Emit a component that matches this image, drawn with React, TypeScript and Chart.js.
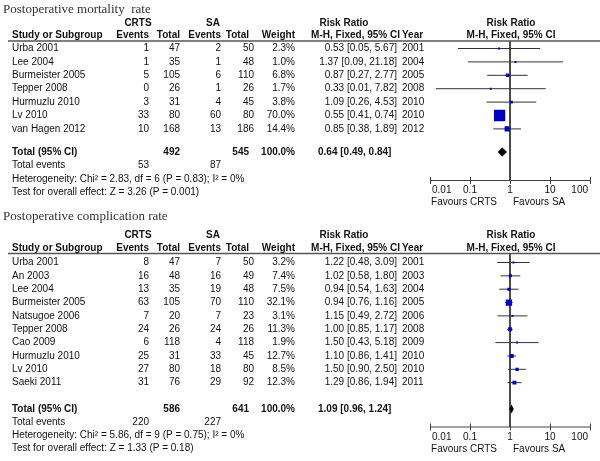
import React, { useEffect, useRef } from "react";
import { Chart, registerables } from "chart.js";
Chart.register(...registerables);

// ---------- Panel 1: Postoperative mortality rate ----------
const mortTitle = "Postoperative mortality  rate";
const mortStudies = ["Urba 2001", "Lee 2004", "Burmeister 2005", "Tepper 2008", "Hurmuzlu 2010", "Lv 2010", "van Hagen 2012"];
const mortCrtsEvents = [1, 1, 5, 0, 3, 33, 10];
const mortCrtsTotal = [47, 35, 105, 26, 31, 80, 168];
const mortSaEvents = [2, 1, 6, 1, 4, 60, 13];
const mortSaTotal = [50, 48, 110, 26, 45, 80, 186];
const mortWeight = [2.3, 1.0, 6.8, 1.7, 3.8, 70.0, 14.4];
const mortRR = [0.53, 1.37, 0.87, 0.33, 1.09, 0.55, 0.85];
const mortLow = [0.05, 0.09, 0.27, 0.014, 0.26, 0.41, 0.38];
const mortHigh = [5.67, 21.18, 2.77, 7.82, 4.53, 0.74, 1.89];
const mortYear = [2001, 2004, 2005, 2008, 2010, 2010, 2012];
const mortTotals = [492, 545];
const mortTotalEvents = [53, 87];
const mortPooled = [0.64, 0.49, 0.84];
const mortHet = "Heterogeneity: Chi\u00B2 = 2.83, df = 6 (P = 0.83); I\u00B2 = 0%";
const mortTest = "Test for overall effect: Z = 3.26 (P = 0.001)";

// ---------- Panel 2: Postoperative complication rate ----------
const compTitle = "Postoperative complication rate";
const compStudies = ["Urba 2001", "An 2003", "Lee 2004", "Burmeister 2005", "Natsugoe 2006", "Tepper 2008", "Cao 2009", "Hurmuzlu 2010", "Lv 2010", "Saeki 2011"];
const compCrtsEvents = [8, 16, 13, 63, 7, 24, 6, 25, 27, 31];
const compCrtsTotal = [47, 48, 35, 105, 20, 26, 118, 31, 80, 76];
const compSaEvents = [7, 16, 19, 70, 7, 24, 4, 33, 18, 29];
const compSaTotal = [50, 49, 48, 110, 23, 26, 118, 45, 80, 92];
const compWeight = [3.2, 7.4, 7.5, 32.1, 3.1, 11.3, 1.9, 12.7, 8.5, 12.3];
const compRR = [1.22, 1.02, 0.94, 0.94, 1.15, 1.0, 1.5, 1.1, 1.5, 1.29];
const compLow = [0.48, 0.58, 0.54, 0.76, 0.49, 0.85, 0.43, 0.86, 0.9, 0.86];
const compHigh = [3.09, 1.8, 1.63, 1.16, 2.72, 1.17, 5.18, 1.41, 2.5, 1.94];
const compYear = [2001, 2003, 2004, 2005, 2006, 2008, 2009, 2010, 2010, 2011];
const compTotals = [586, 641];
const compTotalEvents = [220, 227];
const compPooled = [1.09, 0.96, 1.24];
const compHet = "Heterogeneity: Chi\u00B2 = 5.86, df = 9 (P = 0.75); I\u00B2 = 0%";
const compTest = "Test for overall effect: Z = 1.33 (P = 0.18)";

// ---------- Shared axis ----------
const tickValues = [0.01, 0.1, 1, 10, 100];
const tickLabels = ["0.01", "0.1", "1", "10", "100"];
const favoursLeft = "Favours CRTS";
const favoursRight = "Favours SA";
const groupLabels = ["CRTS", "SA", "Risk Ratio", "Risk Ratio"];
const colLabels = ["Study or Subgroup", "Events", "Total", "Events", "Total", "Weight", "M-H, Fixed, 95% CI", "Year", "M-H, Fixed, 95% CI"];

const W = 600;
const H = 461;
const SANS = '"Liberation Sans", Arial, sans-serif';
const SERIF = '"Liberation Serif", "Times New Roman", serif';

type Panel = {
  title: string; studies: string[]; ce: number[]; ct: number[]; se: number[]; st: number[];
  weight: number[]; rr: number[]; lo: number[]; hi: number[]; year: number[];
  totals: number[]; totalEvents: number[]; pooled: number[]; het: string; test: string;
  lay: {
    titleY: number; groupY: number; colY: number; lineY: number; row0: number; step: number;
    totalY: number; eventsY: number; hetY: number; testY: number; axisY: number; tickY: number; favY: number;
    boxK: number; diamondH: number;
  };
};

const panels: Panel[] = [
  {
    title: mortTitle, studies: mortStudies, ce: mortCrtsEvents, ct: mortCrtsTotal, se: mortSaEvents, st: mortSaTotal,
    weight: mortWeight, rr: mortRR, lo: mortLow, hi: mortHigh, year: mortYear,
    totals: mortTotals, totalEvents: mortTotalEvents, pooled: mortPooled, het: mortHet, test: mortTest,
    lay: { titleY: 9.5, groupY: 23, colY: 35.5, lineY: 41, row0: 48.5, step: 13.4, totalY: 152, eventsY: 165.5, hetY: 179, testY: 192, axisY: 180.5, tickY: 190.5, favY: 202, boxK: 1.35, diamondH: 4.5 },
  },
  {
    title: compTitle, studies: compStudies, ce: compCrtsEvents, ct: compCrtsTotal, se: compSaEvents, st: compSaTotal,
    weight: compWeight, rr: compRR, lo: compLow, hi: compHigh, year: compYear,
    totals: compTotals, totalEvents: compTotalEvents, pooled: compPooled, het: compHet, test: compTest,
    lay: { titleY: 217, groupY: 235, colY: 248.5, lineY: 253.5, row0: 262.5, step: 13.35, totalY: 409, eventsY: 422.5, hetY: 435.5, testY: 448.5, axisY: 427, tickY: 437.5, favY: 449.5, boxK: 1.12, diamondH: 4.5 },
  },
];

const fmt = (v: number) => v.toFixed(2);

function tablePlugin(p: Panel) {
  return {
    id: "forestTable",
    afterDatasetsDraw(chart: any) {
      const ctx: CanvasRenderingContext2D = chart.ctx;
      const xs = chart.scales.x;
      const ys = chart.scales.y;
      const L = p.lay;
      const x1 = xs.getPixelForValue(1);
      const totalVal = (L.totalY - L.row0) / L.step;
      const ty = ys.getPixelForValue(totalVal);
      ctx.save();

      // pooled diamond
      const dl = xs.getPixelForValue(p.pooled[1]);
      const dm = xs.getPixelForValue(p.pooled[0]);
      const dr = xs.getPixelForValue(p.pooled[2]);
      ctx.fillStyle = "#000";
      ctx.beginPath();
      ctx.moveTo(dl, ty);
      ctx.lineTo(dm, ty - L.diamondH);
      ctx.lineTo(dr, ty);
      ctx.lineTo(dm, ty + L.diamondH);
      ctx.closePath();
      ctx.fill();

      // axis
      const ax0 = xs.getPixelForValue(tickValues[0]);
      const ax1 = xs.getPixelForValue(tickValues[tickValues.length - 1]);
      ctx.strokeStyle = "#444";
      ctx.lineWidth = 1;
      ctx.beginPath();
      ctx.moveTo(ax0, L.axisY);
      ctx.lineTo(ax1, L.axisY);
      tickValues.forEach((v) => {
        const tx = Math.round(xs.getPixelForValue(v)) + 0.5;
        ctx.moveTo(tx, L.axisY - 3.5);
        ctx.lineTo(tx, L.axisY + 3.5);
      });
      ctx.stroke();

      ctx.fillStyle = "#111";
      ctx.textBaseline = "middle";
      ctx.font = `10px ${SANS}`;
      tickValues.forEach((v, i) => {
        const tx = xs.getPixelForValue(v);
        if (i === 0) { ctx.textAlign = "left"; ctx.fillText(tickLabels[i], tx + 2, L.tickY); }
        else if (i === tickValues.length - 1) { ctx.textAlign = "right"; ctx.fillText(tickLabels[i], tx - 2, L.tickY); }
        else { ctx.textAlign = "center"; ctx.fillText(tickLabels[i], tx, L.tickY); }
      });
      ctx.textAlign = "right";
      ctx.fillText(favoursLeft, x1 - 13, L.favY);
      ctx.textAlign = "left";
      ctx.fillText(favoursRight, x1 + 3, L.favY);

      // title
      ctx.font = `13px ${SERIF}`;
      ctx.fillStyle = "#333";
      ctx.textAlign = "left";
      ctx.fillText(p.title, 3, L.titleY);

      // header underline
      ctx.strokeStyle = "#555";
      ctx.lineWidth = 1.5;
      ctx.beginPath();
      ctx.moveTo(8, L.lineY);
      ctx.lineTo(W, L.lineY);
      ctx.stroke();

      // group headers
      ctx.fillStyle = "#111";
      ctx.font = `bold 10px ${SANS}`;
      ctx.textAlign = "center";
      ctx.fillText(groupLabels[0], 138, L.groupY);
      ctx.fillText(groupLabels[1], 213, L.groupY);
      ctx.fillText(groupLabels[2], 344, L.groupY);
      ctx.fillText(groupLabels[3], x1 + 1, L.groupY);

      // column headers
      ctx.textAlign = "left";
      ctx.fillText(colLabels[0], 12, L.colY);
      ctx.textAlign = "right";
      ctx.fillText(colLabels[1], 149, L.colY);
      ctx.fillText(colLabels[2], 180, L.colY);
      ctx.fillText(colLabels[3], 221, L.colY);
      ctx.fillText(colLabels[4], 249, L.colY);
      ctx.fillText(colLabels[5], 295, L.colY);
      ctx.fillText(colLabels[6], 400, L.colY);
      ctx.textAlign = "left";
      ctx.fillText(colLabels[7], 402, L.colY);
      ctx.textAlign = "center";
      ctx.fillText(colLabels[8], x1 + 1, L.colY);

      // study rows
      ctx.font = `10px ${SANS}`;
      p.studies.forEach((s, i) => {
        const y = ys.getPixelForValue(i);
        ctx.textAlign = "left";
        ctx.fillText(s, 12, y);
        ctx.textAlign = "right";
        ctx.fillText(String(p.ce[i]), 149, y);
        ctx.fillText(String(p.ct[i]), 180, y);
        ctx.fillText(String(p.se[i]), 221, y);
        ctx.fillText(String(p.st[i]), 254, y);
        ctx.fillText(p.weight[i].toFixed(1) + "%", 295, y);
        ctx.fillText(`${fmt(p.rr[i])} [${fmt(p.lo[i])}, ${fmt(p.hi[i])}]`, 397, y);
        ctx.textAlign = "left";
        ctx.fillText(String(p.year[i]), 402, y);
      });

      // total row
      ctx.font = `bold 10px ${SANS}`;
      ctx.textAlign = "left";
      ctx.fillText("Total (95% CI)", 12, ty);
      ctx.textAlign = "right";
      ctx.fillText(String(p.totals[0]), 180, ty);
      ctx.fillText(String(p.totals[1]), 249, ty);
      const wsum = p.weight.reduce((a, b) => a + b, 0);
      ctx.fillText(wsum.toFixed(1) + "%", 295, ty);
      ctx.textAlign = "left";
      ctx.fillText(`${fmt(p.pooled[0])} [${fmt(p.pooled[1])}, ${fmt(p.pooled[2])}]`, 318, ty);

      ctx.font = `10px ${SANS}`;
      ctx.textAlign = "left";
      ctx.fillText("Total events", 12, L.eventsY);
      ctx.textAlign = "right";
      ctx.fillText(String(p.totalEvents[0]), 149, L.eventsY);
      ctx.fillText(String(p.totalEvents[1]), 221, L.eventsY);
      ctx.textAlign = "left";
      ctx.fillText(p.het, 12, L.hetY);
      ctx.fillText(p.test, 12, L.testY);
      ctx.restore();
    },
  };
}

function ForestPanel({ p }: { p: Panel }) {
  const ref = useRef<HTMLCanvasElement | null>(null);
  useEffect(() => {
    const L = p.lay;
    const yMin = (L.lineY - L.row0) / L.step;
    const yMax = (L.axisY - L.row0) / L.step;
    const ciData: any[] = [];
    p.studies.forEach((_, i) => {
      ciData.push({ x: p.lo[i], y: i }, { x: p.hi[i], y: i }, { x: NaN, y: NaN });
    });
    const chart = new Chart(ref.current as HTMLCanvasElement, {
      type: "scatter",
      data: {
        datasets: [
          {
            label: "boxes",
            data: p.rr.map((v, i) => ({ x: v, y: i })),
            pointStyle: "rect",
            pointRadius: p.weight.map((w) => Math.max(2, L.boxK * Math.sqrt(w)) / Math.SQRT2),
            backgroundColor: "#0000c0",
            borderWidth: 0,
            order: 0,
          } as any,
          {
            label: "ci",
            data: ciData,
            showLine: true,
            spanGaps: false,
            borderColor: "#333",
            borderWidth: 1,
            pointRadius: 0,
            order: 1,
          } as any,
          {
            label: "ref",
            data: [{ x: 1, y: yMin }, { x: 1, y: yMax }],
            showLine: true,
            borderColor: "#333",
            borderWidth: 1,
            pointRadius: 0,
            order: 2,
          } as any,
        ],
      },
      options: {
        animation: false,
        responsive: false,
        events: [],
        layout: { padding: { left: 430, right: W - 590, top: L.lineY, bottom: H - L.axisY } },
        scales: {
          x: { type: "logarithmic", min: tickValues[0], max: tickValues[tickValues.length - 1], display: false },
          y: { type: "linear", min: yMin, max: yMax, reverse: true, display: false },
        },
        plugins: { legend: { display: false }, tooltip: { enabled: false } },
      },
      plugins: [tablePlugin(p)],
    });
    return () => chart.destroy();
  }, [p]);
  return <canvas ref={ref} width={W} height={H} style={{ position: "absolute", left: 0, top: 0, width: W, height: H }} />;
}

export default function App() {
  return (
    <div style={{ position: "fixed", left: 0, top: 0, width: W, height: H, background: "#fff", overflow: "hidden" }}>
      {panels.map((p, i) => (
        <ForestPanel key={i} p={p} />
      ))}
    </div>
  );
}
